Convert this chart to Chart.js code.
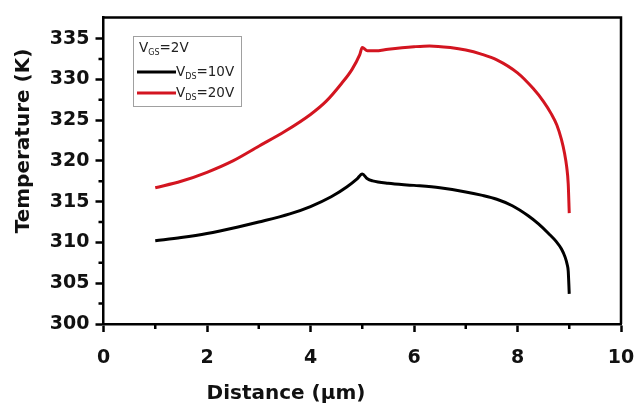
<!DOCTYPE html>
<html>
<head>
<meta charset="utf-8">
<script src="https://cdn.jsdelivr.net/npm/chart.js@4.4.1/dist/chart.umd.min.js"></script>
<style>
html,body{margin:0;padding:0;background:#fff;}
#wrap{width:636px;height:409px;position:relative;}
</style>
</head>
<body>
<div id="wrap"><canvas id="c" width="636" height="409"></canvas></div>
<script>
// ---- data ----
const legendTitle = ['V', 'GS', '=2V'];
const seriesLabels = [['V', 'DS', '=10V'], ['V', 'DS', '=20V']];

const blackX = [1.0, 1.5, 2.0, 2.6, 3.0, 3.6, 4.0, 4.4, 4.7, 4.9, 5.0, 5.1, 5.2, 5.5, 6.0, 6.5, 7.0, 7.3, 7.6, 7.9, 8.2, 8.4, 8.6, 8.75, 8.85, 8.92, 8.96, 8.98, 9.0];
const blackT = [310.2, 310.6, 311.1, 311.9, 312.5, 313.5, 314.4, 315.6, 316.8, 317.8, 318.4, 317.8, 317.55, 317.25, 317.0, 316.7, 316.2, 315.8, 315.3, 314.5, 313.3, 312.3, 311.1, 310.1, 309.2, 308.2, 307.3, 306.5, 303.7];

const redX = [1.0, 1.5, 2.0, 2.5, 3.0, 3.5, 4.0, 4.3, 4.6, 4.8, 4.95, 5.0, 5.1, 5.25, 5.5, 6.0, 6.3, 6.7, 7.0, 7.3, 7.6, 8.0, 8.3, 8.5, 8.65, 8.76, 8.85, 8.91, 8.95, 8.98, 9.0];
const redT = [316.7, 317.5, 318.6, 320.0, 321.8, 323.6, 325.7, 327.3, 329.5, 331.2, 333.0, 333.9, 333.5, 333.5, 333.7, 334.0, 334.1, 333.9, 333.6, 333.1, 332.4, 330.8, 328.9, 327.3, 325.8, 324.4, 322.6, 320.9, 319.3, 317.2, 313.6];

const xMajorTicks = [0, 2, 4, 6, 8, 10];
const xMinorTicks = [1, 3, 5, 7, 9];
const yMajorTicks = [300, 305, 310, 315, 320, 325, 330, 335];
const yMinorTicks = [302.5, 307.5, 312.5, 317.5, 322.5, 327.5, 332.5];

const xTitle = 'Distance (\u03bcm)';
const yTitle = 'Temperature (K)';

const toPts = (xs, ys) => xs.map((x, i) => ({x: x, y: ys[i]}));

const FONT = 'DejaVu Sans';

const decor = {
  id: 'decor',
  afterDraw(chart) {
    const ctx = chart.ctx;
    const a = chart.chartArea;
    const xs = chart.scales.x, ys = chart.scales.y;
    ctx.save();
    ctx.strokeStyle = '#000';
    ctx.lineWidth = 2.5;
    ctx.beginPath();
    ctx.moveTo(a.left, a.top);
    ctx.lineTo(a.right, a.top);
    ctx.lineTo(a.right, a.bottom);
    ctx.stroke();
    ctx.beginPath();
    xMinorTicks.forEach(v => {
      const p = xs.getPixelForValue(v);
      ctx.moveTo(p, a.bottom);
      ctx.lineTo(p, a.bottom + 5);
    });
    yMinorTicks.forEach(v => {
      const p = ys.getPixelForValue(v);
      ctx.moveTo(a.left, p);
      ctx.lineTo(a.left - 5, p);
    });
    ctx.stroke();
    ctx.fillStyle = '#111';
    ctx.font = 'bold 20px "' + FONT + '"';
    ctx.textAlign = 'center';
    ctx.textBaseline = 'middle';
    ctx.fillText(xTitle, 286, 394);
    ctx.save();
    ctx.translate(24, 141);
    ctx.rotate(-Math.PI / 2);
    ctx.fillText(yTitle, 0, 0);
    ctx.restore();
    const lx = 133, ly = 36, lw = 108, lh = 70;
    ctx.fillStyle = '#fff';
    ctx.fillRect(lx, ly, lw, lh);
    ctx.strokeStyle = '#a0a0a0';
    ctx.lineWidth = 1;
    ctx.strokeRect(lx + 0.5, ly + 0.5, lw, lh);
    const drawSub = (parts, x, y) => {
      ctx.textAlign = 'left';
      ctx.textBaseline = 'middle';
      ctx.fillStyle = '#222';
      ctx.font = '13.5px "' + FONT + '"';
      ctx.fillText(parts[0], x, y);
      x += ctx.measureText(parts[0]).width;
      ctx.font = '8px "' + FONT + '"';
      ctx.fillText(parts[1], x, y + 5);
      x += ctx.measureText(parts[1]).width;
      ctx.font = '13.5px "' + FONT + '"';
      ctx.fillText(parts[2], x, y);
    };
    drawSub(legendTitle, 139, 48);
    const rows = [72, 93];
    chart.data.datasets.forEach((ds, i) => {
      ctx.strokeStyle = ds.borderColor;
      ctx.lineWidth = 3;
      ctx.beginPath();
      ctx.moveTo(137, rows[i]);
      ctx.lineTo(176, rows[i]);
      ctx.stroke();
      drawSub(seriesLabels[i], 176, rows[i]);
    });
    ctx.restore();
  }
};

new Chart(document.getElementById('c'), {
  type: 'line',
  data: {
    datasets: [
      {label: 'VDS=10V', data: toPts(blackX, blackT), borderColor: '#000000', borderWidth: 3, pointRadius: 0, cubicInterpolationMode: 'monotone', fill: false},
      {label: 'VDS=20V', data: toPts(redX, redT), borderColor: '#d31520', borderWidth: 3, pointRadius: 0, cubicInterpolationMode: 'monotone', fill: false}
    ]
  },
  options: {
    responsive: false,
    animation: false,
    layout: {padding: {left: 0, top: 13, right: 0, bottom: 0}},
    plugins: {legend: {display: false}, tooltip: {enabled: false}},
    scales: {
      x: {
        type: 'linear', min: 0, max: 10,
        afterBuildTicks: s => { s.ticks = xMajorTicks.map(v => ({value: v})); },
        afterFit: s => { s.height = 85; s.paddingRight = 15; s.paddingLeft = 0; },
        ticks: {font: {family: FONT, weight: 'bold', size: 19}, color: '#111', padding: 15, maxRotation: 0},
        grid: {drawOnChartArea: false, drawTicks: true, tickLength: 8, tickWidth: 2.5, tickColor: '#000'},
        border: {color: '#000', width: 2.5}
      },
      y: {
        type: 'linear', min: 300, max: 337.6,
        afterBuildTicks: s => { s.ticks = yMajorTicks.map(v => ({value: v})); },
        afterFit: s => { s.width = 103.5; },
        ticks: {font: {family: FONT, weight: 'bold', size: 19}, color: '#111', padding: 6},
        grid: {drawOnChartArea: false, drawTicks: true, tickLength: 8, tickWidth: 2.5, tickColor: '#000'},
        border: {color: '#000', width: 2.5}
      }
    }
  },
  plugins: [decor]
});
</script>
</body>
</html>
